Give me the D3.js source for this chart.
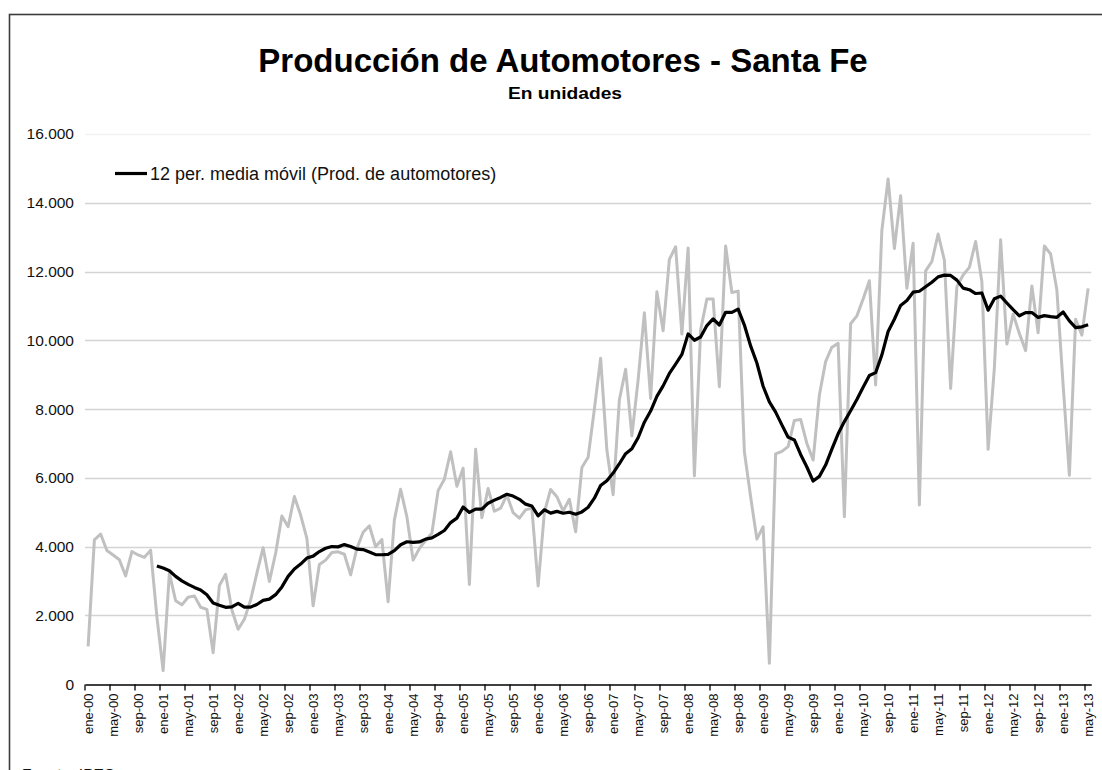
<!DOCTYPE html>
<html>
<head>
<meta charset="utf-8">
<script src="https://cdn.jsdelivr.net/npm/d3@7"></script>
<style>
  html, body { margin: 0; padding: 0; background: #fff; overflow: hidden; }
  svg { display: block; font-family: Arial, 'Liberation Sans', sans-serif; }
</style>
</head>
<body>
<svg class="chart" width="1102" height="770"></svg>
<script>
// Monthly production, ene-00 .. may-13
const monthNames = ['ene', 'feb', 'mar', 'abr', 'may', 'jun', 'jul', 'ago', 'sep', 'oct', 'nov', 'dic'];
const firstYear = 2000;

const produccion = [
  1100, 4200, 4370, 3890, 3760, 3620, 3150, 3860, 3760, 3690, 3900, 1970,
  400, 3230, 2430, 2310, 2530, 2570, 2240, 2180, 920, 2870, 3200, 2160,
  1600, 1890, 2450, 3230, 3970, 2990, 3810, 4890, 4580, 5460, 4920, 4240,
  2280, 3480, 3610, 3830, 3850, 3780, 3180, 3950, 4420, 4610, 4000, 4210,
  2400, 4780, 5670, 4870, 3610, 3950, 4180, 4390, 5630, 5960, 6760, 5760,
  6280, 2900, 6830, 4840, 5690, 5030, 5120, 5500, 4990, 4830, 5070, 5120,
  2860, 5000, 5665, 5455, 5040, 5380, 4435, 6300, 6600, 8000, 9480, 6810,
  5510, 8270, 9160, 7220, 8850, 10800, 8310, 11410, 10280, 12350, 12720, 10180,
  12680, 6060, 10300, 11200, 11200, 8650, 12740, 11390, 11430, 6760, 5450, 4220,
  4580, 610, 6700, 6770, 6910, 7670, 7700, 7000, 6520, 8410, 9380, 9800,
  9910, 4870, 10480, 10710, 11200, 11730, 8700, 13200, 14690, 12670, 14200, 11510,
  12820, 5210, 12020, 12290, 13090, 12330, 8600, 11560, 11900, 12120, 12870, 11700,
  6830, 9200, 12920, 9890, 10760, 10200, 9700, 11580, 10220, 12740, 12510, 11460,
  8700, 6080, 10610, 10150, 11510
];

const yTicks = [0, 2000, 4000, 6000, 8000, 10000, 12000, 14000, 16000];
const labelEvery = 4;
const maPeriod = 12;

const title = 'Producción de Automotores - Santa Fe';
const subtitle = 'En unidades';
const legendLabel = '12 per. media móvil (Prod. de automotores)';
const sourceLabel = 'Fuente: IPEC';

// category labels like "ene-00"
const categories = produccion.map((_, i) =>
  monthNames[i % 12] + '-' + String((firstYear + Math.floor(i / 12)) % 100).padStart(2, '0'));

// Excel style trailing moving average, starts at the 12th point
const mediaMovil = produccion.map((_, i) =>
  i < maPeriod - 1 ? null : d3.mean(produccion.slice(i - maPeriod + 1, i + 1)));

const svg = d3.select('.chart');
const fmt = d3.formatLocale({ decimal: ',', thousands: '.', grouping: [3], currency: ['$', ''] }).format(',d');

const x = d3.scaleBand()
  .domain(categories.map((_, i) => i))
  .range([85, 1091.25])
  .padding(0);
const cx = i => x(i) + x.bandwidth() / 2;

const y = d3.scaleLinear()
  .domain([0, 16000])
  .range([684.3, 133.9]);

// outer frame (only left and top edges fall inside the picture)
svg.append('rect')
  .attr('x', 9.5).attr('y', 14.5)
  .attr('width', 1300).attr('height', 1000)
  .attr('fill', 'none')
  .attr('stroke', '#3c3c3c')
  .attr('stroke-width', 1.6);

// titles
svg.append('text')
  .attr('x', 563).attr('y', 72)
  .attr('text-anchor', 'middle')
  .style('font-size', '33px')
  .style('font-weight', 'bold')
  .text(title);

svg.append('text')
  .attr('x', 565).attr('y', 98.5)
  .attr('text-anchor', 'middle')
  .attr('textLength', 114)
  .attr('lengthAdjust', 'spacingAndGlyphs')
  .style('font-size', '16px')
  .style('font-weight', 'bold')
  .text(subtitle);

// gridlines
svg.append('g').attr('class', 'grid')
  .selectAll('line')
  .data(yTicks.filter(d => d > 0))
  .join('line')
  .attr('x1', 85).attr('x2', 1091.25)
  .attr('y1', d => Math.round(y(d)) + 0.5)
  .attr('y2', d => Math.round(y(d)) + 0.5)
  .attr('stroke', d => d === 16000 ? '#f2f2f2' : '#d4d4d4')
  .attr('stroke-width', 1.3);

// y axis labels
svg.append('g').attr('class', 'y-labels')
  .selectAll('text')
  .data(yTicks)
  .join('text')
  .attr('x', 74)
  .attr('y', d => y(d))
  .attr('dy', '0.36em')
  .attr('text-anchor', 'end')
  .style('font-size', '15.5px')
  .style('fill', '#111')
  .text(d => fmt(d));

// x axis: ticks between categories, every 4 months
const xAxis = d3.axisBottom(x)
  .tickValues(x.domain().filter(i => i % labelEvery === 0))
  .tickSize(0)
  .tickFormat(i => categories[i]);

const gx = svg.append('g')
  .attr('transform', `translate(0,${Math.round(y(0)) + 0.5})`)
  .call(xAxis);
gx.select('.domain').attr('stroke', '#000').attr('stroke-width', 1.3);
gx.selectAll('.tick text')
  .attr('transform', 'rotate(-90)')
  .attr('x', -9).attr('y', 0).attr('dy', '0.36em')
  .attr('text-anchor', 'end')
  .style('font-family', "Arial, 'Liberation Sans', sans-serif")
  .style('font-size', '13px')
  .style('fill', '#111');

gx.append('g').attr('class', 'tick-marks')
  .selectAll('line')
  .data(x.domain().filter(i => i % labelEvery === 0))
  .join('line')
  .attr('x1', i => x(i)).attr('x2', i => x(i))
  .attr('y1', 0).attr('y2', 6)
  .attr('stroke', '#000')
  .attr('stroke-width', 1.3);

// raw series in gray
const line = d3.line()
  .defined(d => d[1] != null)
  .x(d => cx(d[0]))
  .y(d => y(d[1]));

svg.append('path')
  .datum(produccion.map((v, i) => [i, v]))
  .attr('fill', 'none')
  .attr('stroke', '#c0c0c0')
  .attr('stroke-width', 3)
  .attr('stroke-linejoin', 'round')
  .attr('d', line);

// moving average in black
svg.append('path')
  .datum(mediaMovil.map((v, i) => [i, v]))
  .attr('fill', 'none')
  .attr('stroke', '#000')
  .attr('stroke-width', 3.2)
  .attr('stroke-linejoin', 'round')
  .attr('d', line);

// legend
const legend = svg.append('g').attr('transform', 'translate(115,173.5)');
legend.append('line')
  .attr('x1', 0).attr('x2', 32)
  .attr('stroke', '#000')
  .attr('stroke-width', 3.2);
legend.append('text')
  .attr('x', 35).attr('y', 0).attr('dy', '0.36em')
  .style('font-size', '18px')
  .style('fill', '#111')
  .text(legendLabel);

// source note, cut by the bottom edge
svg.append('text')
  .attr('x', 22).attr('y', 778.5)
  .style('font-size', '15.5px')
  .style('fill', '#111')
  .text(sourceLabel);
</script>
</body>
</html>
